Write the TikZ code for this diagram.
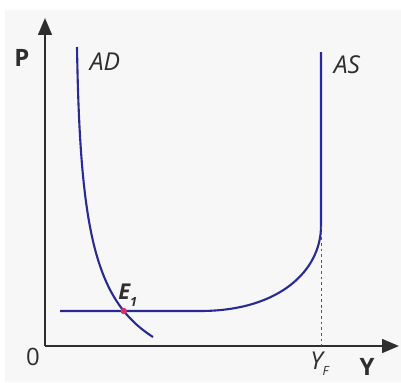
\documentclass[tikz,border=0pt]{standalone}
\usepackage{fontspec}
\setmainfont{Open Sans}
\usepackage{xcolor}
\usepackage{tikz}
\usetikzlibrary{positioning, arrows.meta, intersections}
\definecolor{curve}{HTML}{2A2A96}
\definecolor{ink}{HTML}{2E2E2E}
\definecolor{paper}{HTML}{F7F7F7}
\definecolor{eqdot}{HTML}{D9306A}
\tikzset{
  axis/.style   = {line width=1.6pt, draw=ink, -{Triangle[length=4.2mm,width=3.4mm]}},
  econ/.style   = {line width=1.5pt, draw=curve},
  guide/.style  = {line width=0.6pt, draw=ink!80, dashed, dash pattern=on 2pt off 2pt},
  lbl/.style    = {font=\fontsize{17.5}{17.5}\selectfont\itshape, text=ink, inner sep=0pt},
  axlbl/.style  = {font=\fontsize{17}{17}\selectfont\bfseries, text=ink, inner sep=0pt},
}

\begin{document}
\begin{tikzpicture}[x=0.025cm, y=-0.025cm]

  % ----- frame -----
  \useasboundingbox (0,0) rectangle (401,382);
  \fill[paper] (5,10) rectangle (401,382);

  % ----- axes -----
  \coordinate (origin) at (45,346);
  \coordinate (ptip) at (45,18);
  \coordinate (ytip) at (399,346);
  \draw[axis] (origin) -- (ptip);
  \draw[axis] (origin) -- (ytip);
  \node[axlbl] (plabel) at (22,58) {P};
  \node[axlbl] (ylabel) at (367,367) {Y};
  \node[font=\fontsize{17}{17}\selectfont, text=ink, inner sep=0pt] (zero) at (33,357) {0};

  % ----- curves -----
  \draw[econ, name path=adpath] (77,47) .. controls (80,230) and (95,300) .. (153,337);
  \draw[econ, name path=aspath] (60,311) -- (200,311)
        .. controls (280,311) and (321,270) .. (321,226) coordinate (kink) -- (321,52);
  \node[lbl] (adlabel) at (105,62) {AD};
  \node[lbl] (aslabel) at (347,65) {AS};

  % ----- full employment -----
  \coordinate (yfbase) at (kink |- origin);
  \draw[guide] (kink) -- (yfbase);
  \node[lbl, anchor=base west] (yflabel) at (310,369) {Y\raisebox{-0.5ex}{\fontsize{9}{9}\selectfont F}};

  % ----- equilibrium -----
  \path[name intersections={of=adpath and aspath, by=eq}];
  \fill[eqdot] (eq) circle (3.2);
  \node[font=\fontsize{15.5}{15.5}\selectfont\bfseries\itshape, text=ink, inner sep=0pt, above right=3pt and -4pt of eq]
       (eqlabel) {E\raisebox{-0.6ex}{\fontsize{9}{9}\selectfont 1}};

\end{tikzpicture}
\end{document}
